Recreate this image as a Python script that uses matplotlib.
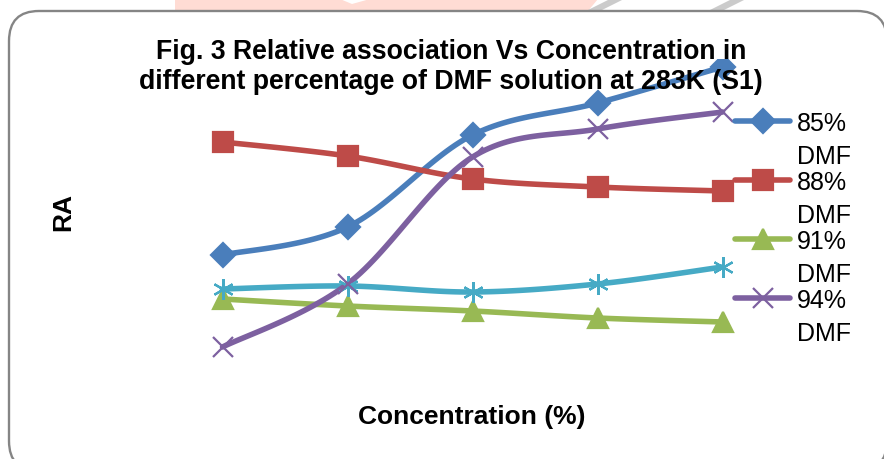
import numpy as np
import matplotlib
matplotlib.use('Agg')
import matplotlib.pyplot as plt
import matplotlib.patches as mpatches
import matplotlib.lines as mlines

plt.rcParams['font.family'] = ['Liberation Sans', 'DejaVu Sans']

# concentration steps (no tick labels shown on the chart)
conc_steps = [1, 2, 3, 4, 5]

ra_85 = [1.24, 1.52, 2.44, 2.76, 3.12]
ra_88 = [2.37, 2.23, 2.00, 1.92, 1.88]
ra_91 = [0.80, 0.73, 0.68, 0.61, 0.57]
ra_94 = [0.32, 0.95, 2.22, 2.50, 2.67]
ra_97 = [0.90, 0.93, 0.87, 0.95, 1.12]

series_labels = ['85%\nDMF', '88%\nDMF', '91%\nDMF', '94%\nDMF']


def smooth_curve(xs, ys, steps=30):
    """catmull-rom style smoothing, like a spreadsheet smoothed line"""
    pts = np.column_stack([xs, ys]).astype(float)
    ext = np.vstack([pts[0], pts, pts[-1]])
    out = []
    t = np.linspace(0, 1, steps)[:, None]
    for i in range(1, len(ext) - 2):
        p0, p1, p2, p3 = ext[i - 1], ext[i], ext[i + 1], ext[i + 2]
        b1 = p1 + (p2 - p0) / 6
        b2 = p2 - (p3 - p1) / 6
        seg = ((1 - t)**3 * p1 + 3 * (1 - t)**2 * t * b1
               + 3 * (1 - t) * t**2 * b2 + t**3 * p2)
        out.append(seg if i == 1 else seg[1:])
    out = np.vstack(out)
    return out[:, 0], out[:, 1]


W, H = 884, 460
fig = plt.figure(figsize=(W / 100, H / 100), dpi=100)


def px(x, y):
    """pixel position (from top-left) to figure fraction"""
    return (x / W, 1 - y / H)


# faint watermark bits at the top edge
fig.patches.append(mpatches.Polygon(
    [px(175, 0), px(598, 0), px(588, 12), px(175, 12)],
    closed=True, transform=fig.transFigure, facecolor='#ffdcd4',
    edgecolor='none', zorder=0))
fig.patches.append(mpatches.Polygon(
    [px(340, 0), px(352, 5), px(370, 0)],
    closed=True, transform=fig.transFigure, facecolor='white',
    edgecolor='none', zorder=0))
for x0 in (586, 708):
    fig.patches.append(mpatches.Polygon(
        [px(x0, 12), px(x0 + 14, 12), px(x0 + 38, 0), px(x0 + 24, 0)],
        closed=True, transform=fig.transFigure, facecolor='#cbcbcb',
        edgecolor='none', zorder=0))

# rounded chart frame
frame = mpatches.FancyBboxPatch(
    px(9, 472), 878 / W, 460 / H,
    boxstyle=mpatches.BoxStyle('Round', pad=0, rounding_size=30 / W),
    transform=fig.transFigure, facecolor='white', edgecolor='#858585',
    linewidth=1.7, zorder=1, mutation_aspect=W / H)
fig.patches.append(frame)

ax = fig.add_axes([160 / W, 1 - 380 / H, 625 / W, 320 / H])
ax.set_zorder(2)
ax.patch.set_visible(False)

styles = [
    (ra_85, '#4a7ebb', 'D', 12),
    (ra_88, '#be4b48', 's', 14),
    (ra_91, '#98b954', '^', 14),
    (ra_97, '#46aac5', (6, 2, 0), 15),
    (ra_94, '#7d60a0', 'x', 14),
]
LW = 4.0
handles = {}
for vals, color, marker, msize in styles:
    sx, sy = smooth_curve(conc_steps, vals)
    ax.plot(sx, sy, color=color, linewidth=LW, solid_capstyle='round',
            zorder=3)
    ax.plot(conc_steps, vals, linestyle='none', marker=marker,
            markersize=msize, color=color, markeredgewidth=1.6, zorder=4)
    handles[id(vals)] = (color, marker, msize)

ax.set_xlim(0.5, 5.5)
ax.set_ylim(0, 3.2)
ax.axis('off')

# legend on the right: handle sits on the first line of each label
for i, vals in enumerate((ra_85, ra_88, ra_91, ra_94)):
    color, marker, msize = handles[id(vals)]
    y_row = 122 + 59 * i
    (x0, y0), (x1, _) = px(735, y_row), px(790, y_row)
    fig.add_artist(mlines.Line2D(
        [x0, x1], [y0, y0], color=color, linewidth=LW,
        solid_capstyle='round', transform=fig.transFigure, zorder=4))
    fig.add_artist(mlines.Line2D(
        [(x0 + x1) / 2], [y0], marker=marker, markersize=msize,
        markeredgewidth=1.6, color=color, transform=fig.transFigure,
        zorder=5))
    fig.text(797 / W, 1 - (y_row - 10) / H, series_labels[i], ha='left',
             va='top', fontsize=18, linespacing=1.45, zorder=5)

fig.text(451 / W, 1 - 67 / H,
         'Fig. 3 Relative association Vs Concentration in\n'
         'different percentage of DMF solution at 283K (S1)',
         ha='center', va='center', fontsize=19.2, fontweight='bold',
         linespacing=1.22, zorder=5)
fig.text(63 / W, 1 - 212 / H, 'RA', rotation=90, ha='center', va='center',
         fontsize=19, fontweight='bold')
fig.text(472 / W, 1 - 417 / H, 'Concentration (%)', ha='center',
         va='center', fontsize=19, fontweight='bold')

fig.savefig('out.png', dpi=100)
